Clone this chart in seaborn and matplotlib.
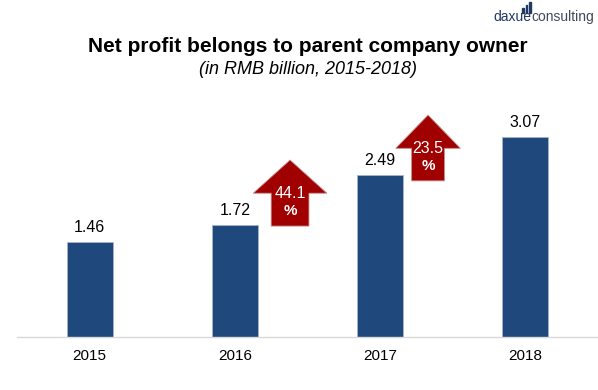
import matplotlib
matplotlib.use('Agg')
import matplotlib.pyplot as plt
import matplotlib.patches as mpatches
import seaborn as sns
import pandas as pd

# chart data
years = ['2015', '2016', '2017', '2018']
profit = [1.46, 1.72, 2.49, 3.07]
growth_labels = ['44.1', '23.5']
# arrows: x position (between categories), bottom / head base / tip in data units
arrow_x = [1.38, 2.33]
arrow_bottom = [1.705, 2.40]
arrow_head_base = [2.21, 2.90]
arrow_tip = [2.72, 3.41]

df = pd.DataFrame({'year': years, 'profit': profit})

sns.set_theme(style='white')
plt.rcParams['font.family'] = ['Liberation Sans', 'DejaVu Sans']

fig = plt.figure(figsize=(5.98, 3.90), dpi=100)
ax = fig.add_axes([17 / 598, 53 / 390, 581 / 598, 257 / 390])

bar_color = '#1F497D'
sns.barplot(data=df, x='year', y='profit', color=bar_color, width=0.315,
            edgecolor='#A6B4C8', linewidth=0.6, saturation=1, ax=ax)
ax.bar_label(ax.containers[0], labels=[f'{v:.2f}' for v in profit],
             padding=5, fontsize=11.5, color='black')

ax.set_xlim(-0.5, 3.48)
ax.set_ylim(0, 3.95)
ax.set_xlabel('')
ax.set_ylabel('')
ax.set_yticks([])
for s in ['top', 'right', 'left']:
    ax.spines[s].set_visible(False)
ax.spines['bottom'].set_color('#D9D9D9')
ax.spines['bottom'].set_linewidth(1.0)
ax.tick_params(axis='x', which='major', length=0, pad=9, labelsize=11, labelcolor='black')
ax.set_xticks([-0.5, 0.5, 1.5, 2.5, 3.5], minor=True)
ax.tick_params(axis='x', which='minor', length=4, color='#D9D9D9', width=1, direction='out')

# growth arrows
red = '#A00000'
head_w = [0.507, 0.445]
body_w = [0.26, 0.226]
for i in range(2):
    cx = arrow_x[i]
    hw, bw = head_w[i] / 2, body_w[i] / 2
    pts = [(cx - bw, arrow_bottom[i]), (cx + bw, arrow_bottom[i]),
           (cx + bw, arrow_head_base[i]), (cx + hw, arrow_head_base[i]),
           (cx, arrow_tip[i]), (cx - hw, arrow_head_base[i]),
           (cx - bw, arrow_head_base[i])]
    ax.add_patch(mpatches.Polygon(pts, closed=True, facecolor=red,
                                  edgecolor='#C98A8A', linewidth=0.6, zorder=5,
                                  clip_on=False))
    ax.text(cx, arrow_head_base[i], growth_labels[i], color='white', fontsize=11.5,
            ha='center', va='center', zorder=6)
    ax.text(cx, arrow_head_base[i] - 0.27, '%', color='white', fontsize=11,
            fontweight='bold', ha='center', va='center', zorder=6)

# titles
fig.text(0.515, 1 - 46 / 390, 'Net profit belongs to parent company owner',
         ha='center', va='center', fontsize=15, fontweight='bold', color='black')
fig.text(0.515, 1 - 69 / 390, '(in RMB billion, 2015-2018)',
         ha='center', va='center', fontsize=13, style='italic', color='black')

# logo
fig.text(531 / 598, 1 - 17 / 390, 'daxue', ha='right', va='center', fontsize=10,
         color='#1F3864')
fig.text(531 / 598, 1 - 17 / 390, 'consulting', ha='left', va='center', fontsize=10,
         color='#3F4A5A')
for i, h in enumerate([5, 8, 11]):
    fig.add_artist(mpatches.Rectangle(((522 + i * 3.5) / 598, (390 - 13) / 390),
                                      1.6 / 598, h / 390, color='#1F3864',
                                      transform=fig.transFigure))

fig.savefig('out.png', dpi=100)
